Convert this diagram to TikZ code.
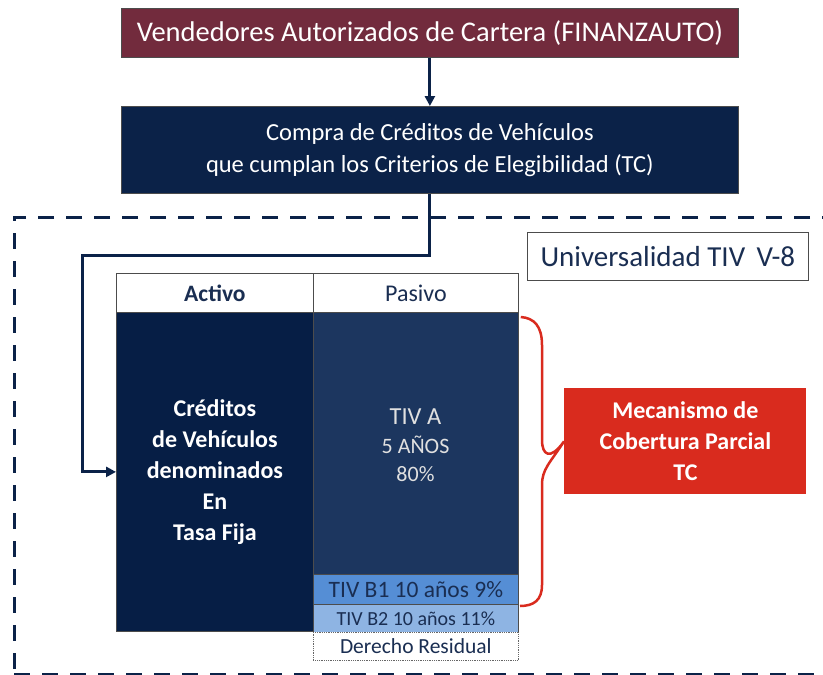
\documentclass[tikz,border=0pt]{standalone}
\usepackage{fontspec}
\setmainfont{Carlito}
\usetikzlibrary{arrows.meta}
\definecolor{maroon}{HTML}{722B3D}
\definecolor{navy}{HTML}{0B2248}
\definecolor{activoc}{HTML}{061E45}
\definecolor{tiva}{HTML}{1C365F}
\definecolor{tivb1}{HTML}{558ED5}
\definecolor{tivb2}{HTML}{8EB4E3}
\definecolor{redbox}{HTML}{D92B1E}
\definecolor{txtnavy}{HTML}{1A2E52}
\tikzset{
  box/.style={draw=black!70, line width=0.8pt, inner sep=0pt, anchor=north west, align=center},
  conn/.style={draw=navy, line width=3pt, -{Triangle[length=10pt,width=10pt]}},
}
\begin{document}
\begin{tikzpicture}[x=1pt,y=-1pt]
\useasboundingbox (0,0) rectangle (823,675);
% dashed frame
\draw[navy, line width=3pt, dash pattern=on 16pt off 12pt] (838,217) -- (14,217) -- (14,690);
\draw[navy, line width=3pt, dash pattern=on 16pt off 12pt] (14,674) -- (838,674);
% top boxes
\node[box, fill=maroon, minimum width=617pt, minimum height=49pt, text=white, font=\fontsize{28.5}{32}\selectfont] (vend) at (121,8) {Vendedores Autorizados de Cartera (FINANZAUTO)};
\node[box, fill=navy, minimum width=617pt, minimum height=87pt, text=white, font=\fontsize{24.5}{32}\selectfont] (compra) at (121,106) {Compra de Créditos de Vehículos\\que cumplan los Criterios de Elegibilidad (TC)};
\draw[conn] (vend) -- (compra);
% universalidad
\node[box, fill=white, minimum width=281pt, minimum height=48pt, text=txtnavy, font=\fontsize{29}{32}\selectfont] (univ) at (527,232) {Universalidad TIV\, V-8};
% table header
\node[box, fill=white, minimum width=197pt, minimum height=39pt, text=txtnavy, font=\bfseries\fontsize{23.5}{26}\selectfont] (hact) at (116,273) {Activo};
\node[box, fill=white, minimum width=205pt, minimum height=39pt, text=txtnavy, font=\fontsize{24}{26}\selectfont] (hpas) at (313,273) {Pasivo};
% activo body
\node[box, fill=activoc, minimum width=197pt, minimum height=319pt, text=white, font=\bfseries\fontsize{24}{31}\selectfont] (activo) at (116,312) {Créditos\\de Vehículos\\denominados\\En\\Tasa Fija};
% pasivo
\node[box, fill=tiva, minimum width=205pt, minimum height=262pt] (tiva) at (313,312) {};
\node[text=white!88!black, align=center, anchor=north, inner sep=0pt, font=\fontsize{24.5}{28}\selectfont] (tivat) at (415.5,409) {TIV A\\[1pt]{\fontsize{22}{26}\selectfont 5 AÑOS}\\{\fontsize{22}{26}\selectfont 80\%}};
\node[box, fill=tivb1, minimum width=205pt, minimum height=30pt, text=txtnavy, font=\fontsize{23.5}{26}\selectfont] (b1) at (313,574) {TIV B1 10 años 9\%};
\node[box, fill=tivb2, minimum width=205pt, minimum height=28pt, text=txtnavy, font=\fontsize{20}{22}\selectfont] (b2) at (313,604) {TIV B2 10 años 11\%};
\node[box, draw=black!60, densely dotted, line width=0.6pt, fill=white, minimum width=205pt, minimum height=28pt, text=txtnavy, font=\fontsize{21.5}{24}\selectfont] (dr) at (313,632) {Derecho Residual};
% connector from compra to activo
\coordinate (bend) at (82,255);
\draw[conn] (compra.south) |- (bend) |- (activo.west);
% red box
\node[box, fill=redbox, draw=none, minimum width=242pt, minimum height=106pt, text=white, font=\bfseries\fontsize{24}{31}\selectfont] (mec) at (564,388) {Mecanismo de\\Cobertura Parcial\\TC};
% brace
\draw[redbox, line width=2.5pt] (tiva.north east) ++(2,5) coordinate (bs)
  .. controls (534,318) and (542,326) .. (542,345)
  -- (542,440)
  .. controls (542,455) and (550,461) .. (mec.west)
  .. controls (550,463) and (542,469) .. (542,485)
  -- (542,585)
  .. controls (542,600) and (534,606) .. (520,606);
\end{tikzpicture}
\end{document}
